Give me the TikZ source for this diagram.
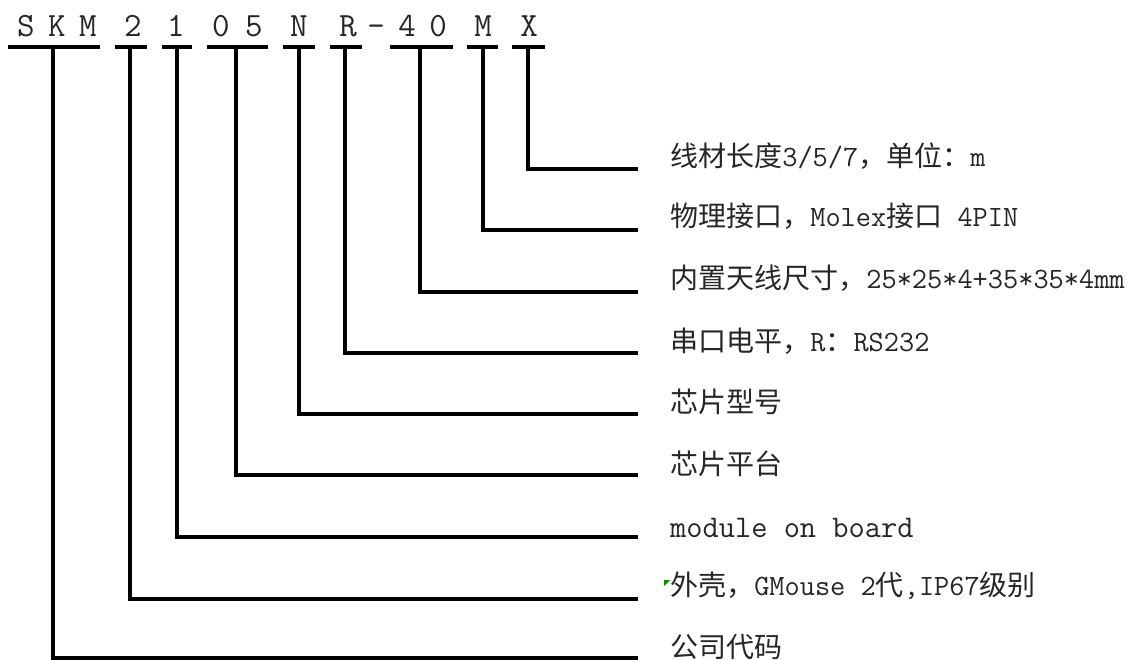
\documentclass[tikz,border=0pt]{standalone}
\usepackage{fontspec}
\newfontfamily\cjk[Scale=0.95]{Noto Sans CJK SC}
\newcommand\Cj[1]{{\cjk #1}}
\begin{document}
\begin{tikzpicture}[x=1pt,y=-1pt,
  wire/.style={line width=3.4pt, line join=miter, line cap=rect},
  uline/.style={line width=3.6pt},
  code/.style={inner sep=0pt, anchor=base, font=\ttfamily\fontsize{34}{34}\selectfont, text=black!85},
  desc/.style={inner sep=0pt, anchor=west, font=\ttfamily\fontsize{29.5}{31}\selectfont, text=black!85}]
\useasboundingbox (0,0) rectangle (1134,660);
% code letters
\node[code] (cS) at (26,37) {S};
\node[code] (cK) at (57,37) {K};
\node[code] (cM) at (88,37) {M};
\node[code] (c2) at (133,37) {2};
\node[code] (c1) at (176,37) {1};
\node[code] (c0) at (221,37) {0};
\node[code] (c5) at (254,37) {5};
\node[code] (cN) at (299,37) {N};
\node[code] (cR) at (348,37) {R};
\node[code] (cD) at (376,37) {-};
\node[code] (c4) at (407,37) {4};
\node[code] (c0b) at (438,37) {0};
\node[code] (cM2) at (483,37) {M};
\node[code] (cX) at (529,37) {X};
% underlines
\draw[uline] (8,47) -- (100,47);
\draw[uline] (115,47) -- (147,47);
\draw[uline] (162,47) -- (192,47);
\draw[uline] (207,47) -- (268,47);
\draw[uline] (283,47) -- (315,47);
\draw[uline] (330,47) -- (362,47);
\draw[uline] (390,47) -- (453,47);
\draw[uline] (467,47) -- (498,47);
\draw[uline] (512,47) -- (545,47);
% stem start points
\coordinate (sSKM) at (53,47);
\coordinate (s2) at (130,47);
\coordinate (s1) at (177,47);
\coordinate (s05) at (236,47);
\coordinate (sN) at (299,47);
\coordinate (sR) at (345,47);
\coordinate (s40) at (420,47);
\coordinate (sM) at (483,47);
\coordinate (sX) at (528,47);
% line ends
\coordinate (eX) at (636,169);
\coordinate (eM) at (636,230);
\coordinate (e40) at (636,292);
\coordinate (eR) at (636,353);
\coordinate (eN) at (636,414);
\coordinate (e05) at (636,475);
\coordinate (e1) at (636,537);
\coordinate (e2) at (636,599);
\coordinate (eSKM) at (636,658);
% descriptions
\node[desc] (tX) at (670,156) {\Cj{线材长度}3/5/7\Cj{，单位：}m};
\node[desc] (tM) at (670,216) {\Cj{物理接口，}Molex\Cj{接口} 4PIN};
\node[desc] (t40) at (670,278) {\Cj{内置天线尺寸，}25*25*4+35*35*4mm};
\node[desc] (tR) at (670,341) {\Cj{串口电平，}R\Cj{：}RS232};
\node[desc] (tN) at (670,402) {\Cj{芯片型号}};
\node[desc] (t05) at (670,464) {\Cj{芯片平台}};
\node[desc, font=\ttfamily\fontsize{31.5}{32}\selectfont] (t1) at (670,528) {module on board};
\node[desc] (t2) at (670,586) {\Cj{外壳，}GMouse 2\Cj{代},IP67\Cj{级别}};
\node[desc] (tSKM) at (670,647) {\Cj{公司代码}};
% green marker
\fill[green!55!black] (664,580) -- (670,580) -- (664,586) -- cycle;
% connectors
\draw[wire] (sX) |- (eX);
\draw[wire] (sM) |- (eM);
\draw[wire] (s40) |- (e40);
\draw[wire] (sR) |- (eR);
\draw[wire] (sN) |- (eN);
\draw[wire] (s05) |- (e05);
\draw[wire] (s1) |- (e1);
\draw[wire] (s2) |- (e2);
\draw[wire] (sSKM) |- (eSKM);
\end{tikzpicture}
\end{document}
